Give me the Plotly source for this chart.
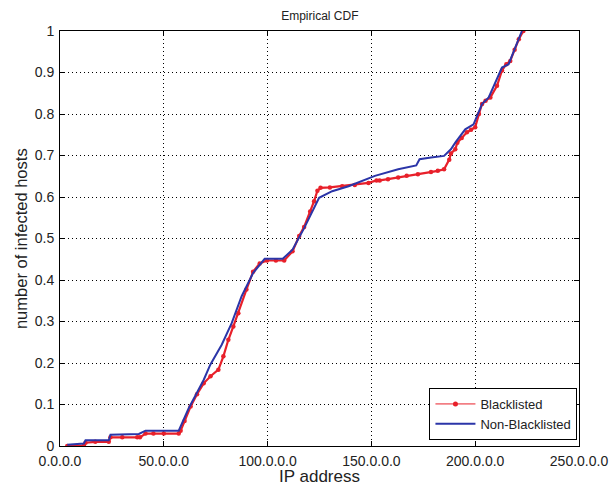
import plotly.graph_objects as go

# Blacklisted (red) empirical CDF points
red_x = [3.5, 11.5, 12.3, 17, 23.5, 24.3, 30, 37.2, 38.5, 41.2, 45, 50, 57.2, 58.1, 60,
         62.9, 66, 69.2, 72.5, 76.3, 78.7, 81.1, 83.5, 85.9, 89.8, 93, 96.2, 99.7, 104,
         108, 112, 115.2, 117.6, 120.5, 122.4, 124, 125.5, 130, 135.9, 142, 148.6, 152.5,
         154, 158, 162.9, 167, 172.4, 178.7, 182, 185, 187.5, 188.3, 190.4, 191.4, 193.5,
         196, 198, 200, 201.8, 203.3, 205, 207.3, 210.5, 212.9, 215, 216.9, 219, 221, 223.2]
red_y = [0.0, 0.001, 0.008, 0.01, 0.01, 0.021, 0.021, 0.021, 0.021, 0.03, 0.03, 0.03, 0.03,
         0.037, 0.06, 0.095, 0.125, 0.151, 0.168, 0.184, 0.216, 0.256, 0.288, 0.32, 0.377,
         0.42, 0.44, 0.447, 0.447, 0.447, 0.469, 0.506, 0.528, 0.565, 0.59, 0.615, 0.622,
         0.623, 0.626, 0.629, 0.634, 0.64, 0.64, 0.643, 0.647, 0.651, 0.655, 0.66, 0.663,
         0.667, 0.69, 0.705, 0.715, 0.731, 0.742, 0.756, 0.762, 0.768, 0.8, 0.824, 0.832,
         0.84, 0.868, 0.905, 0.92, 0.928, 0.955, 0.98, 1.0]

# Non-Blacklisted (blue) empirical CDF points
blue_x = [3.5, 11.5, 12.3, 23.5, 24.3, 38, 41.2, 57.2, 62, 69.2, 72.4, 77.9, 82.7, 87.5,
          93, 98.6, 107.3, 112, 117.6, 124.8, 131.1, 139, 151.7, 162.9, 171.6, 173.2,
          178.7, 185, 188.3, 190.4, 195.2, 199.2, 203.3, 206.5, 212.9, 216.1, 222.5]
blue_y = [0.003, 0.006, 0.014, 0.014, 0.027, 0.029, 0.037, 0.037, 0.091, 0.159, 0.196,
          0.244, 0.296, 0.361, 0.417, 0.451, 0.451, 0.473, 0.525, 0.598, 0.614, 0.626,
          0.651, 0.667, 0.676, 0.691, 0.695, 0.699, 0.715, 0.731, 0.763, 0.775, 0.824,
          0.84, 0.912, 0.92, 1.0]

x_tickvals = [0, 50, 100, 150, 200, 250]
x_ticktext = ["0.0.0.0", "50.0.0.0", "100.0.0.0", "150.0.0.0", "200.0.0.0", "250.0.0.0"]
y_tickvals = [0, 0.1, 0.2, 0.3, 0.4, 0.5, 0.6, 0.7, 0.8, 0.9, 1]
y_ticktext = ["0", "0.1", "0.2", "0.3", "0.4", "0.5", "0.6", "0.7", "0.8", "0.9", "1"]

RED = "#e8202a"
BLUE = "#2b35a8"
FONT = "Liberation Sans, Arial"

fig = go.Figure()
fig.add_trace(go.Scatter(x=red_x, y=red_y, mode="lines+markers", name="Blacklisted",
                         showlegend=False,
                         line=dict(color=RED, width=2.2),
                         marker=dict(color=RED, size=4.5, symbol="circle")))
fig.add_trace(go.Scatter(x=blue_x, y=blue_y, mode="lines", name="Non-Blacklisted",
                         legendrank=2,
                         line=dict(color=BLUE, width=2)))
# legend entry for the red series with a thin line and dot marker
fig.add_trace(go.Scatter(x=[None], y=[None], mode="lines+markers", name="Blacklisted",
                         legendrank=1,
                         line=dict(color=RED, width=1),
                         marker=dict(color=RED, size=5, symbol="circle")))

axis_common = dict(showline=True, linecolor="black", linewidth=1, mirror="ticks",
                   ticks="inside", ticklen=5, tickcolor="black",
                   showgrid=True, gridcolor="black", griddash="1px,3px", gridwidth=1,
                   zeroline=False, automargin=False,
                   tickfont=dict(family=FONT, size=14, color="#222"))

fig.update_xaxes(range=[0, 250], tickvals=x_tickvals, ticktext=x_ticktext,
                 ticklabelstandoff=2, **axis_common)
fig.update_yaxes(range=[0, 1], tickvals=y_tickvals, ticktext=y_ticktext,
                 ticklabelstandoff=2, **axis_common)

fig.add_annotation(text="IP address", xref="paper", yref="paper", x=0.5, y=-0.074,
                   xanchor="center", yanchor="middle", showarrow=False,
                   font=dict(family=FONT, size=17, color="#222"))
fig.add_annotation(text="number of infected hosts", xref="paper", yref="paper",
                   x=-0.076, y=0.5, xanchor="center", yanchor="middle", textangle=-90,
                   showarrow=False, font=dict(family=FONT, size=16.5, color="#222"))

fig.update_layout(
    width=615, height=485,
    margin=dict(l=59.5, r=35.5, t=31, b=39, pad=0),
    paper_bgcolor="white", plot_bgcolor="white",
    title=dict(text="Empirical CDF", x=0.52, xanchor="center", y=0.967, yanchor="middle",
               font=dict(family=FONT, size=12, color="#222")),
    legend=dict(x=0.997, xanchor="right", y=0.0145, yanchor="bottom",
                bordercolor="black", borderwidth=1, bgcolor="white",
                font=dict(family=FONT, size=13, color="#222"),
                tracegroupgap=0, itemwidth=40),
    showlegend=True,
)

fig.write_html("out.html")
